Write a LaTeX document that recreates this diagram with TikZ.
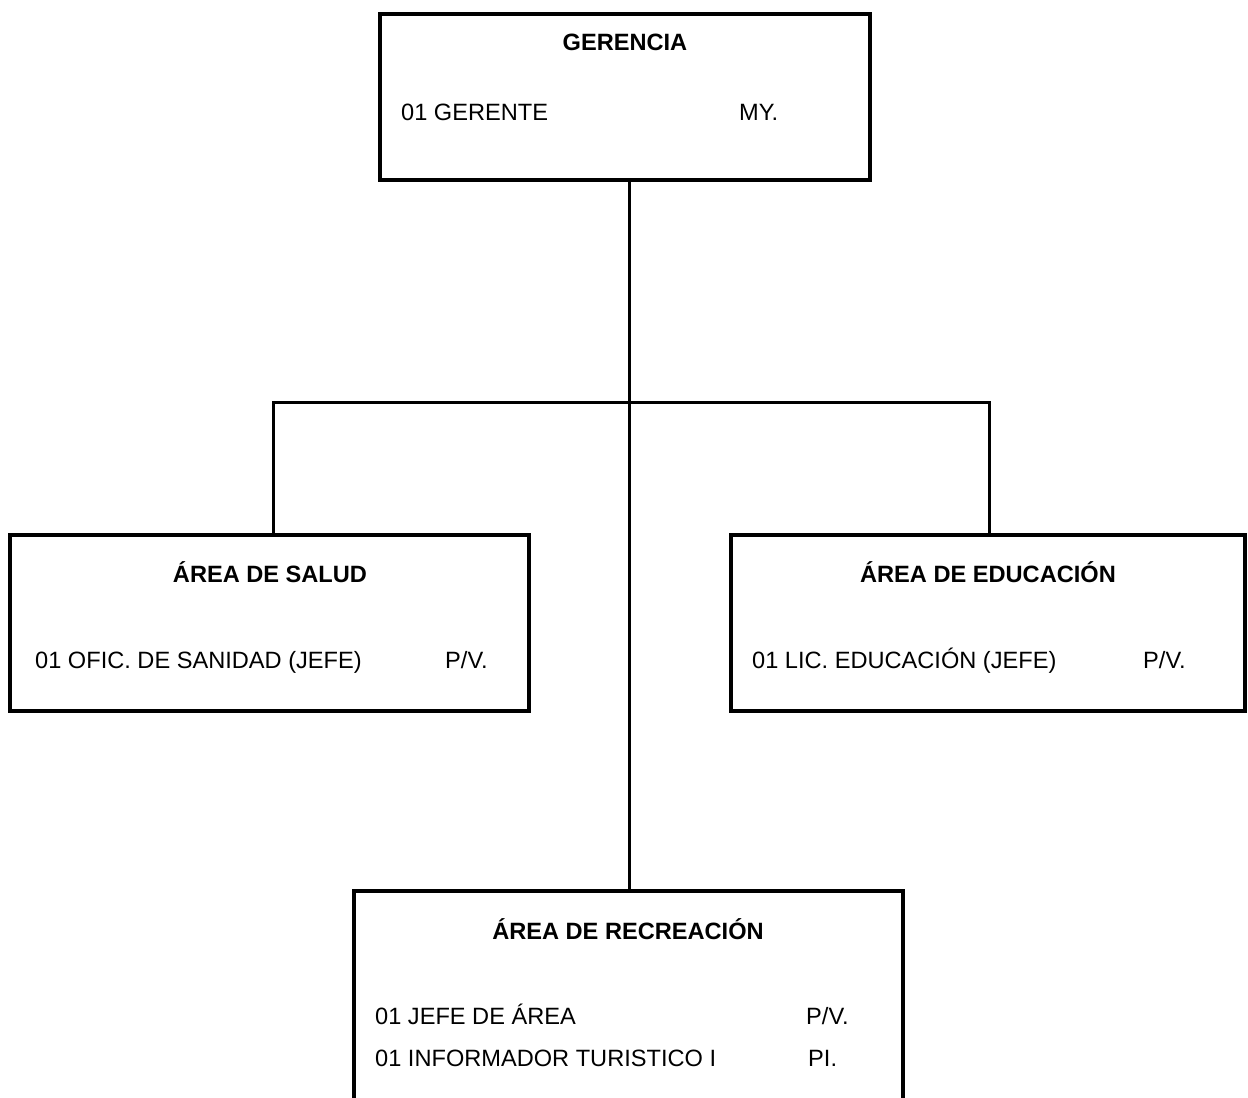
\documentclass[tikz,border=0pt]{standalone}
\usepackage{fontspec}
\setmainfont{Liberation Sans}
\begin{document}
\begin{tikzpicture}[x=1pt,y=-1pt,
  unitbox/.style={draw,line width=3.5pt,rectangle,inner sep=0pt,outer sep=0pt,anchor=north west},
  link/.style={line width=3pt},
  title/.style={anchor=base,inner sep=0pt,font=\fontsize{23.6}{28}\selectfont\bfseries},
  entry/.style={anchor=base west,inner sep=0pt,font=\fontsize{23.6}{28}\selectfont}]
\clip (0,0) rectangle (1248,1098);
\fill[white] (0,0) rectangle (1248,1098);

% boxes
\node[unitbox,minimum width=490pt,minimum height=166pt] (ger) at (380,14) {};
\node[unitbox,minimum width=519pt,minimum height=176pt] (sal) at (10,535) {};
\node[unitbox,minimum width=514pt,minimum height=176pt] (edu) at (731,535) {};
\node[unitbox,minimum width=549pt,minimum height=260pt] (rec) at (354,891) {};

% connectors
\coordinate (j) at (629,402);
\draw[link] (ger.south -| j) -- (rec.north -| j);
\draw[link] ([xshift=3.5pt]sal.north) |- (j) -| ([xshift=1pt]edu.north);

% texts
\node[title] (tger) at (625,50) {GERENCIA};
\node[entry] (g1) at (401,120) {01 GERENTE};
\node[entry] (g1r) at (739,120) {MY.};

\node[title] (tsal) at (270,582) {ÁREA DE SALUD};
\node[entry] (s1) at (35,668) {01 OFIC. DE SANIDAD (JEFE)};
\node[entry] (s1r) at (445,668) {P/V.};

\node[title] (tedu) at (988,582) {ÁREA DE EDUCACIÓN};
\node[entry] (e1) at (752,668) {01 LIC. EDUCACIÓN (JEFE)};
\node[entry] (e1r) at (1143,668) {P/V.};

\node[title] (trec) at (628,939) {ÁREA DE RECREACIÓN};
\node[entry] (r1) at (375,1024) {01 JEFE DE ÁREA};
\node[entry] (r1r) at (806,1024) {P/V.};
\node[entry] (r2) at (375,1066) {01 INFORMADOR TURISTICO I};
\node[entry] (r2r) at (808,1066) {PI.};
\end{tikzpicture}
\end{document}
